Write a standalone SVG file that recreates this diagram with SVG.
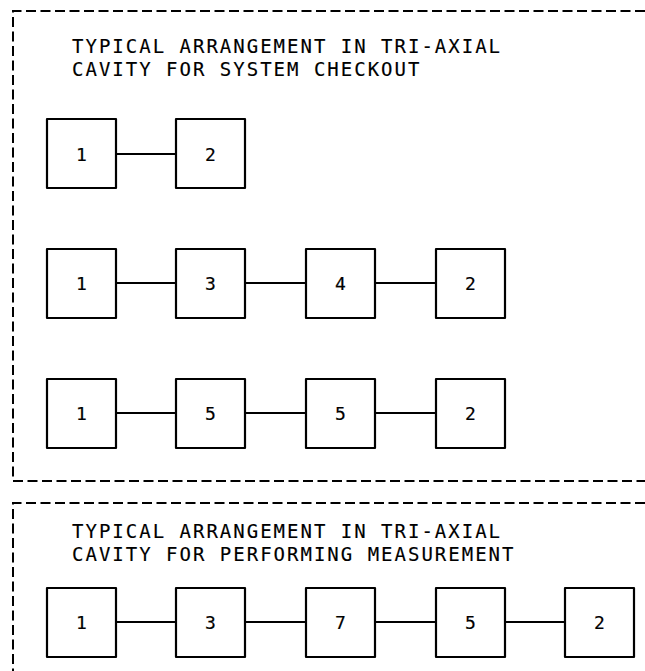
<svg xmlns="http://www.w3.org/2000/svg" width="645" height="671" viewBox="0 0 645 671">
<style>
.frame{fill:none;stroke:#000;stroke-width:2;stroke-dasharray:10 4.5}
.box{fill:#fff;stroke:#000;stroke-width:2.2;stroke-linejoin:round}
.wire{stroke:#000;stroke-width:1.8;fill:none}
.t{font-family:"DejaVu Sans Mono","Liberation Mono",monospace;font-size:19px;fill:#000;stroke:#000;stroke-width:0.15;letter-spacing:2px}
.n{font-family:"DejaVu Sans Mono","Liberation Mono",monospace;font-size:18px;fill:#000;stroke:#000;stroke-width:0.2;text-anchor:middle}
</style>
<rect width="645" height="671" fill="#fff"/>
<g id="frames">
<path class="frame" d="M645 11 H13 V481 H645"/>
<path class="frame" d="M645 503 H13 V675"/>
</g>
<g id="titles">
<text class="t" x="72" y="53">TYPICAL ARRANGEMENT IN TRI-AXIAL</text>
<text class="t" x="72" y="76">CAVITY FOR SYSTEM CHECKOUT</text>
<text class="t" x="72" y="538">TYPICAL ARRANGEMENT IN TRI-AXIAL</text>
<text class="t" x="72" y="561">CAVITY FOR PERFORMING MEASUREMENT</text>
</g>
<g id="connectors">
<line class="wire" x1="116" y1="154" x2="176" y2="154"/>
<line class="wire" x1="116" y1="283" x2="176" y2="283"/>
<line class="wire" x1="245" y1="283" x2="306" y2="283"/>
<line class="wire" x1="375" y1="283" x2="436" y2="283"/>
<line class="wire" x1="116" y1="413" x2="176" y2="413"/>
<line class="wire" x1="245" y1="413" x2="306" y2="413"/>
<line class="wire" x1="375" y1="413" x2="436" y2="413"/>
<line class="wire" x1="116" y1="622" x2="176" y2="622"/>
<line class="wire" x1="245" y1="622" x2="306" y2="622"/>
<line class="wire" x1="375" y1="622" x2="436" y2="622"/>
<line class="wire" x1="505" y1="622" x2="565" y2="622"/>
</g>
<g id="r1n1"><rect class="box" x="47" y="119" width="69" height="69"/><text class="n" x="81.5" y="161">1</text></g>
<g id="r1n2"><rect class="box" x="176" y="119" width="69" height="69"/><text class="n" x="210.5" y="161">2</text></g>
<g id="r2n1"><rect class="box" x="47" y="249" width="69" height="69"/><text class="n" x="81.5" y="290">1</text></g>
<g id="r2n2"><rect class="box" x="176" y="249" width="69" height="69"/><text class="n" x="210.5" y="290">3</text></g>
<g id="r2n3"><rect class="box" x="306" y="249" width="69" height="69"/><text class="n" x="340.5" y="290">4</text></g>
<g id="r2n4"><rect class="box" x="436" y="249" width="69" height="69"/><text class="n" x="470.5" y="290">2</text></g>
<g id="r3n1"><rect class="box" x="47" y="379" width="69" height="69"/><text class="n" x="81.5" y="420">1</text></g>
<g id="r3n2"><rect class="box" x="176" y="379" width="69" height="69"/><text class="n" x="210.5" y="420">5</text></g>
<g id="r3n3"><rect class="box" x="306" y="379" width="69" height="69"/><text class="n" x="340.5" y="420">5</text></g>
<g id="r3n4"><rect class="box" x="436" y="379" width="69" height="69"/><text class="n" x="470.5" y="420">2</text></g>
<g id="r4n1"><rect class="box" x="47" y="588" width="69" height="69"/><text class="n" x="81.5" y="629">1</text></g>
<g id="r4n2"><rect class="box" x="176" y="588" width="69" height="69"/><text class="n" x="210.5" y="629">3</text></g>
<g id="r4n3"><rect class="box" x="306" y="588" width="69" height="69"/><text class="n" x="340.5" y="629">7</text></g>
<g id="r4n4"><rect class="box" x="436" y="588" width="69" height="69"/><text class="n" x="470.5" y="629">5</text></g>
<g id="r4n5"><rect class="box" x="565" y="588" width="69" height="69"/><text class="n" x="599.5" y="629">2</text></g>
</svg>
